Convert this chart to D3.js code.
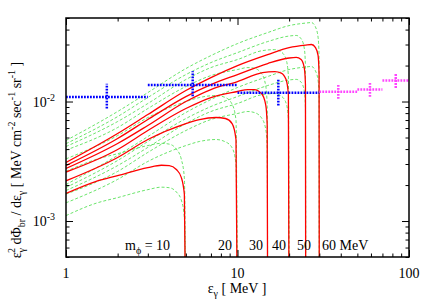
<!DOCTYPE html>
<html>
<head>
<meta charset="utf-8">
<script src="https://cdn.jsdelivr.net/npm/d3@7"></script>
<style>
body { margin: 0; background: #fff; }
svg { display: block; font-family: "Liberation Serif", "Times New Roman", serif; }
text { fill: #000; }
</style>
</head>
<body>
<svg id="chart" width="436" height="305"></svg>
<script>
// spectra for each mediator mass, [E_gamma (MeV), flux]
// red = central curve, up/lo = green dashed band
const red10 = [[1,.0017],[1.5,.00215],[2,.0024],[3,.0028],[3.6,.00293],[4,.00291],[4.4,.0027],[4.7,.00232],[4.9,.00167],[5,1e-4]];
const up10  = [[1,.0026],[1.5,.00328],[2,.00366],[3,.00428],[3.6,.00447],[4,.0044],[4.4,.004],[4.7,.0033],[4.9,.0023],[5,1e-4]];
const lo10  = [[1,.00111],[1.5,.00141],[2,.00157],[3,.00183],[3.6,.00192],[4,.0019],[4.4,.00175],[4.7,.0015],[4.9,.00107],[5,1e-4]];

const red20 = [[1,.00217],[2,.0034],[3,.00481],[5,.00654],[6,.00707],[7.5,.00735],[8.5,.00721],[9.3,.00654],[9.8,.00481],[10,1e-4]];
const up20  = [[1,.00331],[2,.00519],[3,.00734],[5,.00999],[6,.0108],[7.5,.01122],[8.5,.0108],[9.3,.0095],[9.8,.007],[10,1e-4]];
const lo20  = [[1,.00142],[2,.00223],[3,.00315],[5,.00428],[6,.00463],[7.5,.00481],[8.5,.0046],[9.3,.0041],[9.8,.003],[10,1e-4]];

const red30 = [[1,.00257],[2,.00397],[3,.00572],[5,.00874],[7,.0108],[10,.01213],[11.5,.0126],[12.5,.0126],[13.8,.01166],[14.6,.00944],[14.9,.00642],[15,1e-4]];
const up30  = [[1,.00392],[2,.00606],[3,.00873],[5,.01335],[7,.01649],[10,.01852],[11.5,.01924],[12.5,.019],[13.8,.0172],[14.6,.0136],[14.9,.0093],[15,1e-4]];
const lo30  = [[1,.00168],[2,.0026],[3,.00375],[5,.00572],[7,.00707],[10,.00794],[11.5,.00825],[12.5,.0081],[13.8,.0073],[14.6,.0059],[14.9,.0041],[15,1e-4]];

const red40 = [[1,.00275],[2,.00445],[3,.0063],[5,.01],[7,.0126],[10,.0147],[14,.01747],[16.5,.0178],[18,.0173],[19.2,.01527],[19.8,.01144],[20,1e-4]];
const up40  = [[1,.0042],[2,.0068],[3,.00962],[5,.01527],[7,.01924],[10,.02245],[14,.02668],[16.5,.02718],[18,.026],[19.2,.0225],[19.8,.0165],[20,1e-4]];
const lo40  = [[1,.0018],[2,.00291],[3,.00413],[5,.00655],[7,.00825],[10,.00963],[14,.01144],[16.5,.01166],[18,.0111],[19.2,.0097],[19.8,.0072],[20,1e-4]];

const red50 = [[1,.00291],[2,.0049],[3,.00707],[5,.011],[7,.01387],[10,.01681],[15,.02079],[20,.02313],[22,.0234],[23.5,.02245],[24.5,.01923],[24.9,.01387],[25,1e-4]];
const up50  = [[1,.00444],[2,.00748],[3,.0108],[5,.0168],[7,.02118],[10,.02567],[15,.03175],[20,.03532],[22,.03573],[23.5,.0335],[24.5,.028],[24.9,.02],[25,1e-4]];
const lo50  = [[1,.00191],[2,.00321],[3,.00463],[5,.0072],[7,.00908],[10,.01101],[15,.01361],[20,.01515],[22,.01532],[23.5,.0145],[24.5,.0123],[24.9,.0089],[25,1e-4]];

const red60 = [[1,.00309],[2,.0054],[3,.00778],[5,.01236],[7,.01587],[10,.02],[15,.02472],[20,.02828],[25,.0297],[27,.03],[28.5,.0283],[29.5,.0243],[29.9,.0168],[30,1e-4]];
const up60  = [[1,.00472],[2,.00825],[3,.01188],[5,.01887],[7,.02423],[10,.03054],[15,.03775],[20,.04318],[25,.04535],[27,.04581],[28.5,.042],[29.5,.0345],[29.9,.024],[30,1e-4]];
const lo60  = [[1,.00202],[2,.00354],[3,.00509],[5,.00809],[7,.01039],[10,.0131],[15,.01619],[20,.01852],[25,.01945],[27,.01965],[28.5,.018],[29.5,.015],[29.9,.0105],[30,1e-4]];

const redCurves = [red10, red20, red30, red40, red50, red60];
const greenCurves = [up10, lo10, up20, lo20, up30, lo30, up40, lo40, up50, lo50, up60, lo60];

// measured diffuse background (energy bins)
const source  = ["COMPTEL", "COMPTEL", "COMPTEL", "EGRET", "EGRET", "EGRET"];
const binLo   = [1, 3, 10, 30, 50, 70];
const binHi   = [3, 10, 30, 50, 70, 100];
const binMid  = [1.73, 5.48, 17.3, 38.7, 59.2, 83.7];
const fluxVal = [0.0109, 0.01377, 0.01182, 0.01205, 0.01259, 0.01496];
const errLo   = [0.00874, 0.01107, 0.00926, 0.01053, 0.01094, 0.0130];
const errHi   = [0.0141, 0.0179, 0.01525, 0.01386, 0.01432, 0.0171];

const massText = ["10", "20", "30", "40", "50", "60 MeV"];
const massTextE = [2.21, 7.69, 11.67, 15.9, 22.2, 31.1];

const xMajor = [1, 10, 100];
const yMajor = [1e-3, 1e-2];
const xTickText = ["1", "10", "100"];
const yTickText = ["-3", "-2"];

const svg = d3.select("#chart");
const L = 66, R = 409, T = 18, B = 257;

const x = d3.scaleLog().domain([1, 100]).range([L, R]);
const y = d3.scaleLog().domain([5e-4, 5e-2]).range([B, T]);

svg.append("clipPath").attr("id", "plotclip")
  .append("rect").attr("x", L).attr("y", T).attr("width", R - L).attr("height", B - T);

const plot = svg.append("g").attr("clip-path", "url(#plotclip)");

const line = d3.line()
  .x(d => x(d[0]))
  .y(d => y(d[1]))
  .curve(d3.curveMonotoneX);

plot.selectAll(".band").data(greenCurves).join("path")
  .attr("class", "band")
  .attr("d", line)
  .attr("fill", "none")
  .attr("stroke", "#44dd44")
  .attr("stroke-width", 0.8)
  .attr("stroke-dasharray", "3,2");

plot.selectAll(".spec").data(redCurves).join("path")
  .attr("class", "spec")
  .attr("d", line)
  .attr("fill", "none")
  .attr("stroke", "#ff0000")
  .attr("stroke-width", 1.3);

// data points
const pointColor = s => s === "COMPTEL" ? "#0000ff" : "#ff44ff";
binMid.forEach((e, i) => {
  const c = pointColor(source[i]);
  plot.append("line")
    .attr("x1", x(binLo[i])).attr("x2", x(binHi[i]))
    .attr("y1", y(fluxVal[i])).attr("y2", y(fluxVal[i]))
    .attr("stroke", c).attr("stroke-width", 2.5).attr("stroke-dasharray", "1.8,1.2");
  plot.append("line")
    .attr("x1", x(e)).attr("x2", x(e))
    .attr("y1", y(errLo[i])).attr("y2", y(errHi[i]))
    .attr("stroke", c).attr("stroke-width", 2.5).attr("stroke-dasharray", "1.8,1.2");
});

// ticks on all four sides, pointing in
function ticks(gen, tr) {
  svg.append("g").attr("transform", tr).call(gen)
    .call(g => g.select(".domain").remove())
    .call(g => g.selectAll("text").remove())
    .call(g => g.selectAll("line").attr("stroke", "#000").attr("stroke-width", 1));
}
const xMinor = x.ticks().filter(v => !xMajor.includes(v));
const yMinor = y.ticks().filter(v => !yMajor.some(m => Math.abs(m - v) < 1e-9));
ticks(d3.axisBottom(x).tickValues(xMajor).tickSize(-7), `translate(0,${B})`);
ticks(d3.axisBottom(x).tickValues(xMinor).tickSize(-3.5), `translate(0,${B})`);
ticks(d3.axisTop(x).tickValues(xMajor).tickSize(-7), `translate(0,${T})`);
ticks(d3.axisTop(x).tickValues(xMinor).tickSize(-3.5), `translate(0,${T})`);
ticks(d3.axisLeft(y).tickValues(yMajor).tickSize(-7), `translate(${L},0)`);
ticks(d3.axisLeft(y).tickValues(yMinor).tickSize(-3.5), `translate(${L},0)`);
ticks(d3.axisRight(y).tickValues(yMajor).tickSize(-7), `translate(${R},0)`);
ticks(d3.axisRight(y).tickValues(yMinor).tickSize(-3.5), `translate(${R},0)`);

svg.append("rect")
  .attr("x", L).attr("y", T).attr("width", R - L).attr("height", B - T)
  .attr("fill", "none").attr("stroke", "#000").attr("stroke-width", 1.5);

// text with sub/superscripts
function rich(t, parts, size) {
  let off = 0;
  parts.forEach(([s, k, dx]) => {
    const target = k === "sub" ? 4 : k === "sup" ? -6 : 0;
    const sp = t.append("tspan").text(s)
      .attr("dy", target - off)
      .attr("fill", "#000")
      .attr("font-size", k === "n" ? size : Math.round(size * 0.72));
    if (dx) sp.attr("dx", dx);
    off = target;
  });
  return t;
}

xMajor.forEach((v, i) => {
  svg.append("text").attr("x", x(v)).attr("y", 278)
    .attr("text-anchor", "middle").attr("font-size", 14).text(xTickText[i]);
});
yMajor.forEach((v, i) => {
  const t = svg.append("text").attr("x", 55).attr("y", y(v) + 5)
    .attr("text-anchor", "end");
  rich(t, [["10", "n"], [yTickText[i], "sup"]], 14);
});

rich(svg.append("text").attr("x", 237).attr("y", 293).attr("text-anchor", "middle"),
  [["ε", "n"], ["γ", "sub"], [" [ MeV ]", "n"]], 14);

rich(svg.append("text").attr("transform", "translate(21,160) rotate(-90)").attr("text-anchor", "middle"),
  [["ε", "n"], ["γ", "sub"], ["2", "sup", -5], [" dΦ", "n"], ["br", "sub"], [" / dε", "n"], ["γ", "sub"],
   [" [ MeV cm", "n"], ["-2", "sup"], [" sec", "n"], ["-1", "sup"], [" sr", "n"], ["-1", "sup"], [" ]", "n"]], 14);

massText.forEach((s, i) => {
  const t = svg.append("text").attr("x", x(massTextE[i])).attr("y", 250);
  if (i === 0) rich(t, [["m", "n"], ["ϕ", "sub"], [" = " + s, "n"]], 14);
  else t.attr("font-size", 14).text(s);
});
</script>
</body>
</html>
